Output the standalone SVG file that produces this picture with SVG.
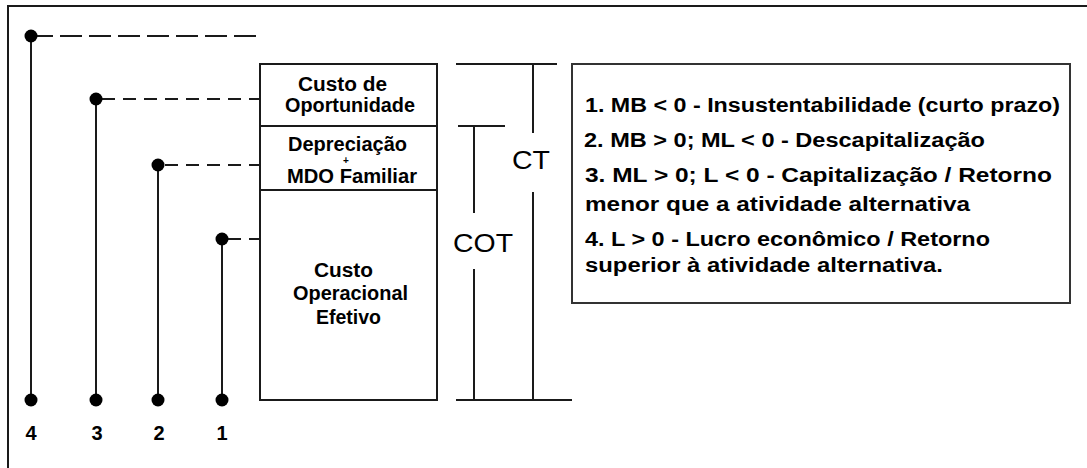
<svg xmlns="http://www.w3.org/2000/svg" width="1087" height="468" viewBox="0 0 1087 468">
<style>
.ln{stroke:#1a1a1a;stroke-width:2;fill:none}
.dl{stroke:#1a1a1a;stroke-width:2;fill:none;stroke-dasharray:13 8}
.dl4{stroke:#1a1a1a;stroke-width:2;fill:none;stroke-dasharray:22 7}
.dot{fill:#000}
.b{font-family:"Liberation Sans",Arial,sans-serif;font-weight:bold;font-size:20px;fill:#000}
.r{font-family:"Liberation Sans",Arial,sans-serif;font-size:26px;fill:#000}
.c{text-anchor:middle}
</style>
<rect width="1087" height="468" fill="#fff"/>
<path class="ln" d="M8,468 V6 H1087"/>

<g id="connectors">
  <line class="dl4" x1="31" y1="36" x2="262" y2="36"/>
  <line class="dl" x1="102" y1="99" x2="260" y2="99"/>
  <line class="dl" x1="165" y1="165" x2="260" y2="165"/>
  <line class="dl" x1="228" y1="239" x2="260" y2="239"/>
  <line class="ln" x1="31" y1="36" x2="31" y2="400"/>
  <line class="ln" x1="96" y1="99" x2="96" y2="400"/>
  <line class="ln" x1="158" y1="165" x2="158" y2="400"/>
  <line class="ln" x1="222" y1="239" x2="222" y2="400"/>
</g>

<g id="level4">
  <circle class="dot" cx="31" cy="36" r="6.5"/>
  <circle class="dot" cx="31" cy="400" r="6.5"/>
  <text class="b c" x="31" y="440">4</text>
</g>
<g id="level3">
  <circle class="dot" cx="96" cy="99" r="6.5"/>
  <circle class="dot" cx="96" cy="400" r="6.5"/>
  <text class="b c" x="97" y="440">3</text>
</g>
<g id="level2">
  <circle class="dot" cx="158" cy="165" r="6.5"/>
  <circle class="dot" cx="158" cy="400" r="6.5"/>
  <text class="b c" x="159" y="440">2</text>
</g>
<g id="level1">
  <circle class="dot" cx="222" cy="239" r="6.5"/>
  <circle class="dot" cx="222" cy="400" r="6.5"/>
  <text class="b c" x="222" y="440">1</text>
</g>

<g id="cost-box">
  <rect class="ln" x="260" y="64" width="177" height="336"/>
  <line class="ln" x1="260" y1="126" x2="437" y2="126"/>
  <line class="ln" x1="260" y1="190" x2="437" y2="190"/>
</g>
<g id="custo-oportunidade">
  <text class="b" x="298" y="91" textLength="89" lengthAdjust="spacingAndGlyphs">Custo de</text>
  <text class="b" x="285" y="112" textLength="130" lengthAdjust="spacingAndGlyphs">Oportunidade</text>
</g>
<g id="depreciacao">
  <text class="b" x="288" y="151" textLength="119" lengthAdjust="spacingAndGlyphs">Depreciação</text>
  <text class="b c" x="346" y="164" style="font-size:10px">+</text>
  <text class="b" x="287" y="183" textLength="130" lengthAdjust="spacingAndGlyphs">MDO Familiar</text>
</g>
<g id="custo-operacional">
  <text class="b" x="314" y="277" textLength="59" lengthAdjust="spacingAndGlyphs">Custo</text>
  <text class="b" x="293" y="300" textLength="115" lengthAdjust="spacingAndGlyphs">Operacional</text>
  <text class="b" x="316" y="324" textLength="65" lengthAdjust="spacingAndGlyphs">Efetivo</text>
</g>

<g id="ct-bracket">
  <line class="ln" x1="456" y1="64" x2="557" y2="64"/>
  <line class="ln" x1="533" y1="64" x2="533" y2="133"/>
  <line class="ln" x1="533" y1="192" x2="533" y2="400"/>
  <text class="r" x="512" y="169" textLength="38" lengthAdjust="spacingAndGlyphs">CT</text>
</g>
<g id="cot-bracket">
  <line class="ln" x1="458" y1="126" x2="505" y2="126"/>
  <line class="ln" x1="474" y1="126" x2="474" y2="213"/>
  <line class="ln" x1="474" y1="269" x2="474" y2="400"/>
  <text class="r" x="453" y="252" textLength="60" lengthAdjust="spacingAndGlyphs">COT</text>
  <line class="ln" x1="456" y1="400" x2="572" y2="400"/>
</g>

<g id="legend">
  <rect x="572" y="64" width="498" height="239" fill="none" stroke="#333" stroke-width="2"/>
  <text class="b" x="585" y="112" textLength="475" lengthAdjust="spacingAndGlyphs">1. MB &lt; 0 - Insustentabilidade (curto prazo)</text>
  <text class="b" x="584" y="147" textLength="401" lengthAdjust="spacingAndGlyphs">2. MB &gt; 0; ML &lt; 0 - Descapitalização</text>
  <text class="b" x="585" y="182" textLength="467" lengthAdjust="spacingAndGlyphs">3. ML &gt; 0; L &lt; 0 -  Capitalização /  Retorno</text>
  <text class="b" x="585" y="211" textLength="385" lengthAdjust="spacingAndGlyphs">menor que a atividade  alternativa</text>
  <text class="b" x="585" y="246" textLength="405" lengthAdjust="spacingAndGlyphs">4. L &gt; 0 - Lucro econômico / Retorno</text>
  <text class="b" x="585" y="272" textLength="358" lengthAdjust="spacingAndGlyphs">superior à atividade alternativa.</text>
</g>
</svg>
